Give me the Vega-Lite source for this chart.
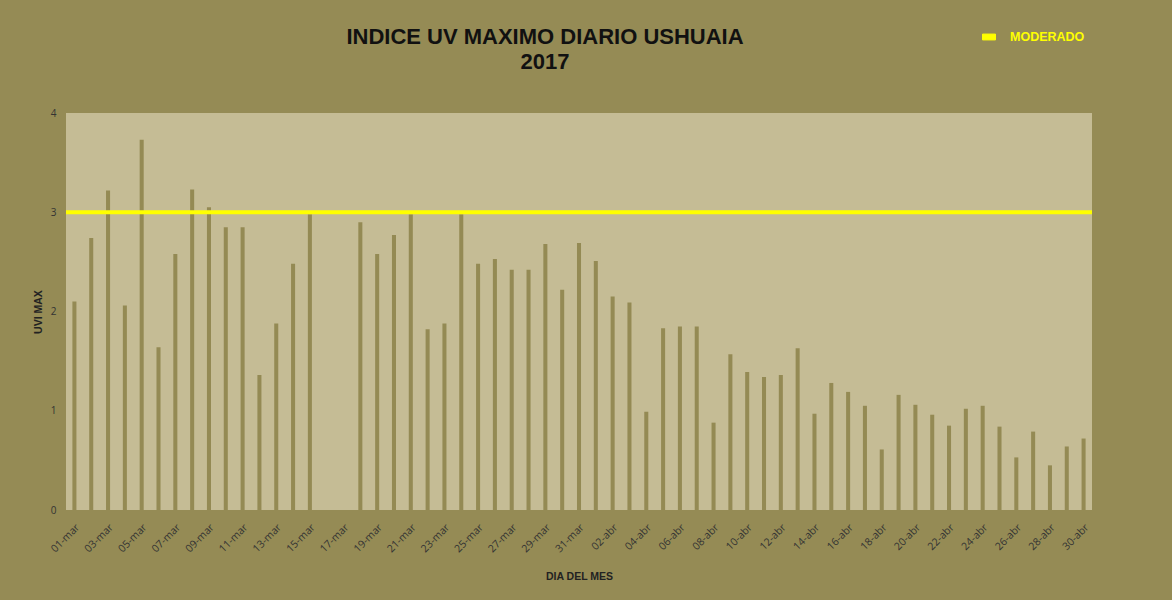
{
  "$schema": "https://vega.github.io/schema/vega-lite/v6.json",
  "width": 1026,
  "height": 397,
  "autosize": {"type": "none"},
  "padding": {"left": 66, "top": 113, "right": 80, "bottom": 90},
  "background": "#958b55",
  "title": {
    "text": ["INDICE UV MAXIMO DIARIO USHUAIA", "2017"],
    "font": "Liberation Sans",
    "fontSize": 22,
    "fontWeight": "bold",
    "color": "#111111",
    "anchor": "middle",
    "frame": "group",
    "baseline": "bottom",
    "dx": -34,
    "offset": -66,
    "lineHeight": 25
  },
  "config": {
    "view": {"stroke": null, "fill": "#c5bc95"},
    "font": "Liberation Sans"
  },
  "data": {
    "values": [
      {"dia": "01-mar", "uv": 2.10}, {"dia": "02-mar", "uv": 2.74}, {"dia": "03-mar", "uv": 3.22},
      {"dia": "04-mar", "uv": 2.06}, {"dia": "05-mar", "uv": 3.73}, {"dia": "06-mar", "uv": 1.64},
      {"dia": "07-mar", "uv": 2.58}, {"dia": "08-mar", "uv": 3.23}, {"dia": "09-mar", "uv": 3.05},
      {"dia": "10-mar", "uv": 2.85}, {"dia": "11-mar", "uv": 2.85}, {"dia": "12-mar", "uv": 1.36},
      {"dia": "13-mar", "uv": 1.88}, {"dia": "14-mar", "uv": 2.48}, {"dia": "15-mar", "uv": 2.98},
      {"dia": "18-mar", "uv": 2.90}, {"dia": "19-mar", "uv": 2.58}, {"dia": "20-mar", "uv": 2.77},
      {"dia": "21-mar", "uv": 2.98}, {"dia": "22-mar", "uv": 1.82}, {"dia": "23-mar", "uv": 1.88},
      {"dia": "24-mar", "uv": 2.98}, {"dia": "25-mar", "uv": 2.48}, {"dia": "26-mar", "uv": 2.53},
      {"dia": "27-mar", "uv": 2.42}, {"dia": "28-mar", "uv": 2.42}, {"dia": "29-mar", "uv": 2.68},
      {"dia": "30-mar", "uv": 2.22}, {"dia": "31-mar", "uv": 2.69},
      {"dia": "01-abr", "uv": 2.51}, {"dia": "02-abr", "uv": 2.15}, {"dia": "03-abr", "uv": 2.09},
      {"dia": "04-abr", "uv": 0.99}, {"dia": "05-abr", "uv": 1.83}, {"dia": "06-abr", "uv": 1.85},
      {"dia": "07-abr", "uv": 1.85}, {"dia": "08-abr", "uv": 0.88}, {"dia": "09-abr", "uv": 1.57},
      {"dia": "10-abr", "uv": 1.39}, {"dia": "11-abr", "uv": 1.34}, {"dia": "12-abr", "uv": 1.36},
      {"dia": "13-abr", "uv": 1.63}, {"dia": "14-abr", "uv": 0.97}, {"dia": "15-abr", "uv": 1.28},
      {"dia": "16-abr", "uv": 1.19}, {"dia": "17-abr", "uv": 1.05}, {"dia": "18-abr", "uv": 0.61},
      {"dia": "19-abr", "uv": 1.16}, {"dia": "20-abr", "uv": 1.06}, {"dia": "21-abr", "uv": 0.96},
      {"dia": "22-abr", "uv": 0.85}, {"dia": "23-abr", "uv": 1.02}, {"dia": "24-abr", "uv": 1.05},
      {"dia": "25-abr", "uv": 0.84}, {"dia": "26-abr", "uv": 0.53}, {"dia": "27-abr", "uv": 0.79},
      {"dia": "28-abr", "uv": 0.45}, {"dia": "29-abr", "uv": 0.64}, {"dia": "30-abr", "uv": 0.72}
    ]
  },
  "layer": [
    {
      "mark": {"type": "bar", "color": "#948a54"},
      "encoding": {
        "x": {
          "field": "dia",
          "type": "ordinal",
          "sort": null,
          "scale": {
            "domain": ["01-mar","02-mar","03-mar","04-mar","05-mar","06-mar","07-mar","08-mar","09-mar","10-mar","11-mar","12-mar","13-mar","14-mar","15-mar","16-mar","17-mar","18-mar","19-mar","20-mar","21-mar","22-mar","23-mar","24-mar","25-mar","26-mar","27-mar","28-mar","29-mar","30-mar","31-mar","01-abr","02-abr","03-abr","04-abr","05-abr","06-abr","07-abr","08-abr","09-abr","10-abr","11-abr","12-abr","13-abr","14-abr","15-abr","16-abr","17-abr","18-abr","19-abr","20-abr","21-abr","22-abr","23-abr","24-abr","25-abr","26-abr","27-abr","28-abr","29-abr","30-abr"],
            "paddingInner": 0.76,
            "paddingOuter": 0.38
          },
          "axis": {
            "title": "DIA DEL MES",
            "titleFont": "Liberation Sans",
            "titleFontSize": 10.5,
            "titleFontWeight": "bold",
            "titleColor": "#222222",
            "titlePadding": 17,
            "values": ["01-mar","03-mar","05-mar","07-mar","09-mar","11-mar","13-mar","15-mar","17-mar","19-mar","21-mar","23-mar","25-mar","27-mar","29-mar","31-mar","02-abr","04-abr","06-abr","08-abr","10-abr","12-abr","14-abr","16-abr","18-abr","20-abr","22-abr","24-abr","26-abr","28-abr","30-abr"],
            "labelAngle": -45,
            "labelFont": "Open Sans",
            "labelFontSize": 10.5,
            "labelColor": "#333333",
            "labelPadding": 12,
            "ticks": false,
            "domain": false,
            "grid": false
          }
        },
        "y": {
          "field": "uv",
          "type": "quantitative",
          "scale": {"domain": [0, 4]},
          "axis": {
            "title": "UVI MAX",
            "titleFontSize": 10.5,
            "titleFontWeight": "bold",
            "titleColor": "#222222",
            "titlePadding": 7,
            "values": [0, 1, 2, 3, 4],
            "format": "d",
            "labelFont": "Open Sans",
            "labelFontSize": 10,
            "labelColor": "#333333",
            "labelPadding": 10,
            "ticks": false,
            "domain": false,
            "grid": false
          }
        }
      }
    },
    {
      "data": {"values": [{"nivel": "MODERADO", "uv": 3}]},
      "mark": {"type": "rule", "strokeWidth": 4},
      "encoding": {
        "y": {"field": "uv", "type": "quantitative"},
        "color": {
          "field": "nivel",
          "type": "nominal",
          "scale": {"range": ["#ffff00"]},
          "legend": {
            "title": null,
            "orient": "none",
            "legendX": 916,
            "legendY": -83,
            "symbolType": "M-1,-0.45H1V0.45H-1Z",
            "symbolSize": 169,
            "symbolFillColor": "#ffff00",
            "symbolStrokeColor": "#ffff00",
            "symbolStrokeWidth": 1,
            "labelColor": "#ffff00",
            "labelFontSize": 12.5,
            "labelFontWeight": "bold",
            "labelOffset": 14
          }
        }
      }
    }
  ]
}
